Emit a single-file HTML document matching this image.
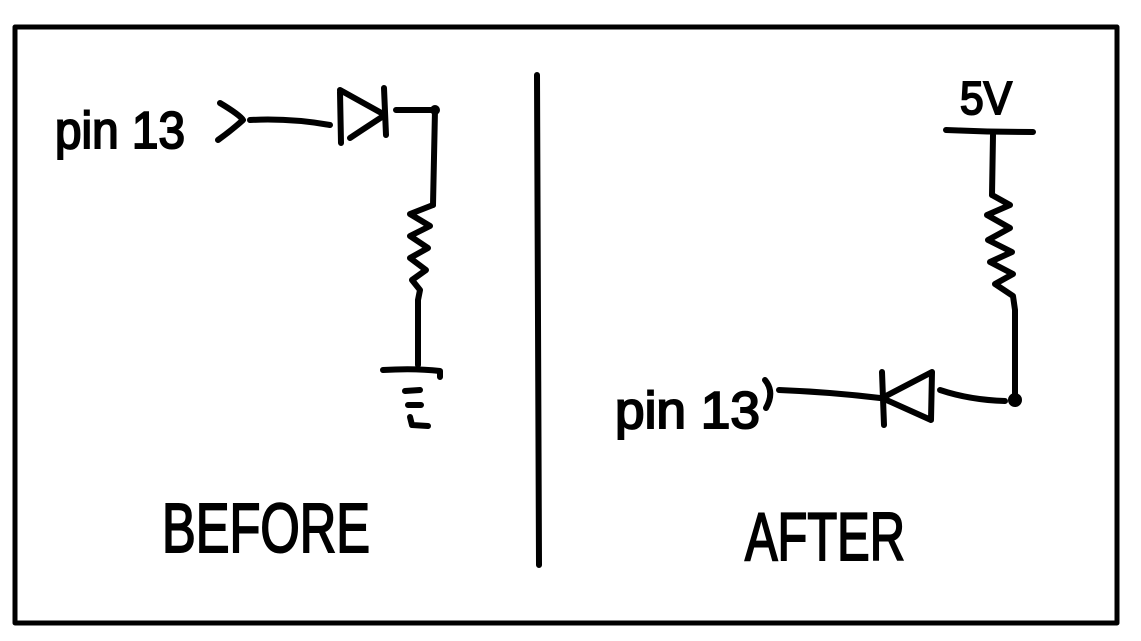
<!DOCTYPE html>
<html><head><meta charset="utf-8"><style>
html,body{margin:0;padding:0;background:#fff;}
svg{display:block;}
text{font-family:"Liberation Sans",sans-serif;fill:#000;stroke:#000;stroke-width:2;}
</style></head><body>
<svg width="1141" height="641" viewBox="0 0 1141 641" xmlns="http://www.w3.org/2000/svg">
<g fill="none" stroke="#000" stroke-width="6" stroke-linecap="round" stroke-linejoin="round">
<rect x="15" y="27" width="1102" height="596" stroke-width="5"/>
<path d="M537 75 L539 565"/>
<path d="M220 103 Q240 115 243 120 Q232 130 218 140"/>
<path d="M250 120 Q290 118 330 125"/>
<path d="M340 92 L341 143"/>
<path d="M340 90 L385 115 Q365 128 350 138"/>
<path d="M384 88 L386 135"/>
<path d="M396 110 L435 110 L433 205"/>
<path d="M433 205 L410 214 L430 226 L410 236 L428 248 L410 258 L426 270 L412 280 L420 290 L418 300 L418 365"/>
<path d="M383 370 Q415 368 440 371 L440 377"/>
<path d="M405 391 L420 390 M408 405 L421 405 M410 417 L412 425 L428 426"/>
<path d="M946 130 Q990 132 1033 132"/>
<path d="M993 135 L992 195"/>
<path d="M992 195 L1010 205 L987 215 L1010 228 L988 240 L1012 252 L990 262 L1013 274 L995 284 L1013 296 L1015 310 L1015 400"/>
<path d="M940 390 Q970 400 1005 401"/>
<circle cx="1015" cy="400" r="4" fill="#000"/>
<path d="M779 390 Q830 392 880 398"/>
<path d="M882 372 L884 425"/>
<path d="M932 372 L931 420 L882 398 Z"/>
<path d="M765 380 Q775 392 766 408"/>
</g>
<circle cx="435" cy="110" r="5" fill="#000"/>
<text x="55" y="148" font-size="52" textLength="130" lengthAdjust="spacingAndGlyphs">pin 13</text>
<text x="615" y="428" font-size="52" textLength="145" lengthAdjust="spacingAndGlyphs">pin 13</text>
<text x="960" y="114" font-size="46" textLength="52" lengthAdjust="spacingAndGlyphs">5V</text>
<text x="162" y="552" font-size="70" textLength="208" lengthAdjust="spacingAndGlyphs">BEFORE</text>
<text x="745" y="560" font-size="68" textLength="160" lengthAdjust="spacingAndGlyphs">AFTER</text>
</svg>
</body></html>
